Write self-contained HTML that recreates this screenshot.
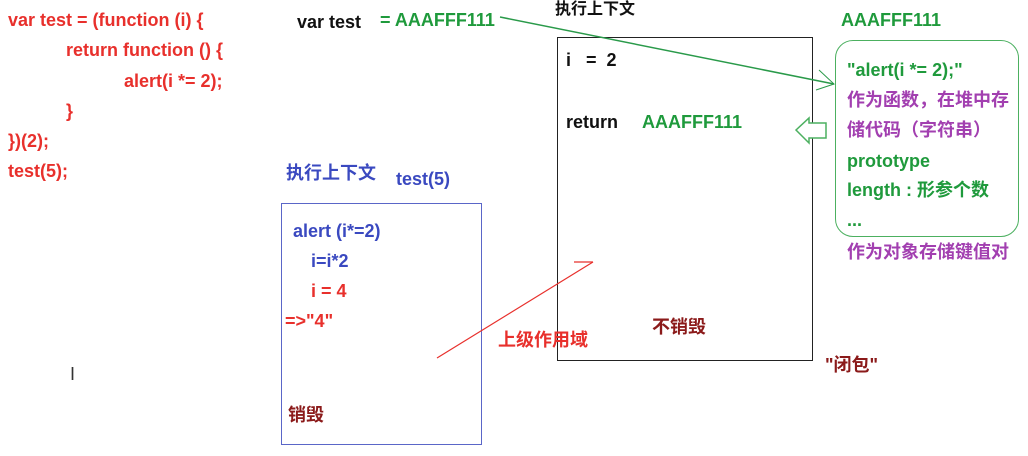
<!DOCTYPE html>
<html><head><meta charset="utf-8"><style>
body{margin:0;width:1028px;height:456px;background:#fff;position:relative;overflow:hidden;font-family:"Liberation Sans","Noto Sans CJK SC",sans-serif;font-weight:bold;font-size:18px}
.t{position:absolute;white-space:pre;line-height:20px}
.c{font-size:16px}
.r{color:#e8302c}.g{color:#1f9a3c}.k{color:#111}.b{color:#3a49c0}.p{color:#a23fb0}.d{color:#8b1a1a}
</style></head><body>
<div class="t r" style="left:8px;top:10px">var test = (function (i) {</div>
<div class="t r" style="left:66px;top:40px">return function () {</div>
<div class="t r" style="left:124px;top:71px">alert(i *= 2);</div>
<div class="t r" style="left:66px;top:101px">}</div>
<div class="t r" style="left:8px;top:131px">})(2);</div>
<div class="t r" style="left:8px;top:161px">test(5);</div>

<div class="t k" style="left:297px;top:12px">var test</div>
<div class="t g" style="left:380px;top:10px">= AAAFFF111</div>
<div class="t k c" style="left:555px;top:0px">执行上下文</div>
<div class="t g" style="left:841px;top:10px">AAAFFF111</div>

<div style="position:absolute;left:557px;top:37px;width:254px;height:322px;border:1.5px solid #222"></div>
<div class="t k" style="left:566px;top:50px">i   =  2</div>
<div class="t k" style="left:566px;top:112px">return</div>
<div class="t g" style="left:642px;top:112px">AAAFFF111</div>
<div class="t d" style="left:652px;top:317px">不销毁</div>
<div class="t d" style="left:825px;top:355px">"闭包"</div>

<div style="position:absolute;left:835px;top:40px;width:182px;height:195px;border:1.5px solid #4cb060;border-radius:18px"></div>
<div class="t g" style="left:847px;top:60px">"alert(i *= 2);"</div>
<div class="t p" style="left:847px;top:90px">作为函数，在堆中存</div>
<div class="t p" style="left:847px;top:120px">储代码（字符串）</div>
<div class="t g" style="left:847px;top:151px">prototype</div>
<div class="t g" style="left:847px;top:180px">length : 形参个数</div>
<div class="t g" style="left:847px;top:210px">...</div>
<div class="t p" style="left:847px;top:242px">作为对象存储键值对</div>

<div style="position:absolute;left:281px;top:203px;width:199px;height:240px;border:1.5px solid #5a66c8"></div>
<div class="t b" style="left:286px;top:163px">执行上下文</div>
<div class="t b" style="left:396px;top:169px">test(5)</div>
<div class="t b" style="left:293px;top:221px">alert (i*=2)</div>
<div class="t b" style="left:311px;top:251px">i=i*2</div>
<div class="t r" style="left:311px;top:281px">i = 4</div>
<div class="t r" style="left:285px;top:311px">=&gt;"4"</div>
<div class="t d" style="left:288px;top:405px">销毁</div>
<div class="t r" style="left:498px;top:330px">上级作用域</div>
<div class="t" style="left:70px;top:364px;font-weight:normal;color:#333;font-size:18px">I</div>

<svg width="1028" height="456" style="position:absolute;left:0;top:0">
<line x1="500" y1="17" x2="834" y2="84" stroke="#2a9a4a" stroke-width="1.5"/>
<polyline points="819,70 834,84 816,90" fill="none" stroke="#2a9a4a" stroke-width="1"/>
<line x1="437" y1="358" x2="593" y2="262" stroke="#e8302c" stroke-width="1.2"/>
<line x1="574" y1="262" x2="593" y2="262" stroke="#e8302c" stroke-width="1.2"/>
<polygon points="796,130 809,118 809,123 826,123 826,138 809,138 809,143" fill="#fff" stroke="#4cb060" stroke-width="1.5"/>
</svg>
</body></html>
